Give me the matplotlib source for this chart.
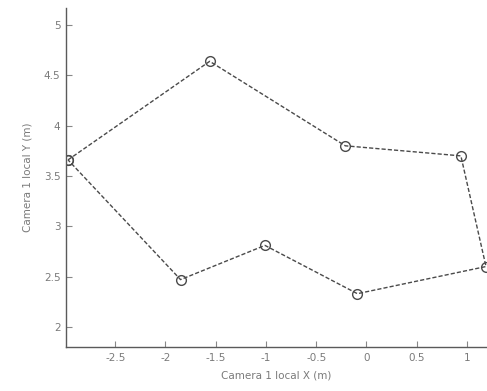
import matplotlib
matplotlib.use('Agg')
import matplotlib.pyplot as plt

# camera 1 local coordinates of the tracked points (closed path)
x_pts = [-2.97, -1.56, -0.21, 0.94, 1.19, -0.09, -1.01, -1.85, -2.97]
y_pts = [3.66, 4.64, 3.80, 3.70, 2.60, 2.33, 2.81, 2.47, 3.66]

x_ticks = [-2.5, -2, -1.5, -1, -0.5, 0, 0.5, 1]
x_labels = ['-2.5', '-2', '-1.5', '-1', '-0.5', '0', '0.5', '1']
y_ticks = [2, 2.5, 3, 3.5, 4, 4.5, 5]
y_labels = ['2', '2.5', '3', '3.5', '4', '4.5', '5']

txt_col = '#7a7a7a'
line_col = '#4a4a4a'

fig = plt.figure(figsize=(4.87, 3.91), dpi=100)
ax = fig.add_axes([66/487, 44/391, 1 - 66/487, (347-8)/391])

ax.plot(x_pts, y_pts, linestyle=(0, (3, 1.5)), color=line_col, linewidth=1.0,
        marker='o', markersize=7, markerfacecolor='none', markeredgecolor=line_col,
        markeredgewidth=1.0, clip_on=True)

ax.set_xlim(-2.99, 1.2)
ax.set_ylim(1.8, 5.17)
ax.set_xticks(x_ticks)
ax.set_xticklabels(x_labels)
ax.set_yticks(y_ticks)
ax.set_yticklabels(y_labels)

ax.spines['top'].set_visible(False)
ax.spines['right'].set_visible(False)
for s in ['left', 'bottom']:
    ax.spines[s].set_color('#5a5a5a')
    ax.spines[s].set_linewidth(1.0)
ax.tick_params(direction='in', length=4, width=0.8, colors='#888888',
               labelcolor=txt_col, labelsize=7.5, pad=4)

ax.set_xlabel('Camera 1 local X (m)', fontsize=7.5, color=txt_col, labelpad=6)
ax.set_ylabel('Camera 1 local Y (m)', fontsize=7.5, color=txt_col, labelpad=8)

fig.savefig('out.png', dpi=100)
